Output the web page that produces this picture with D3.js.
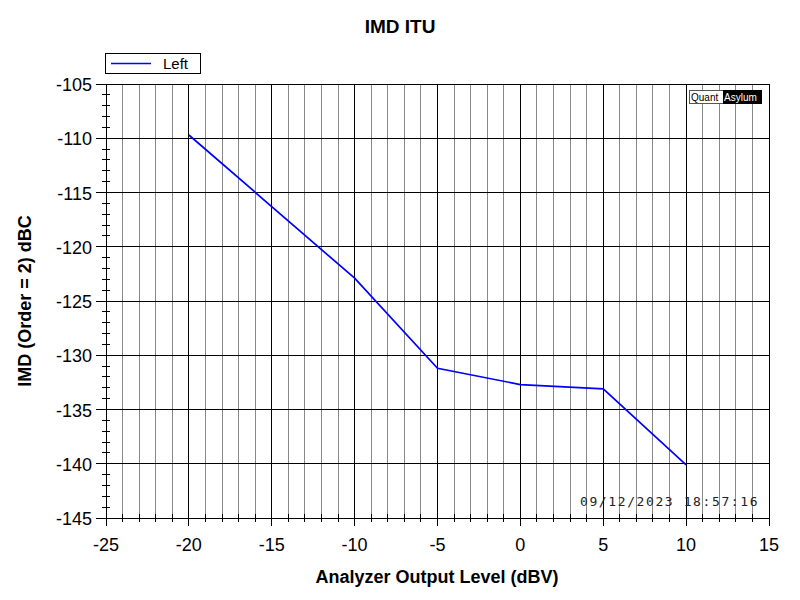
<!DOCTYPE html>
<html><head><meta charset="utf-8">
<script src="https://cdn.jsdelivr.net/npm/d3@7"></script>
<style>body{margin:0;background:#fff}</style></head>
<body><svg id="c" width="800" height="600"></svg>
<script>
const xVals = [-20, -10, -5, 0, 5, 10];
const leftVals = [-109.7, -122.9, -131.2, -132.7, -133.1, -140.1];
const xTicks = [-25, -20, -15, -10, -5, 0, 5, 10, 15];
const yTicks = [-105, -110, -115, -120, -125, -130, -135, -140, -145];

const svg = d3.select("#c");
const L = 106, R = 769, T = 84, B = 518;
const x = d3.scaleLinear().domain([-25, 15]).range([L, R]);
const y = d3.scaleLinear().domain([-145, -105]).range([B, T]);
const F = "Liberation Sans, Arial, sans-serif";

svg.append("g").selectAll("line").data(d3.range(-24, 15).filter(v => v % 5 !== 0)).join("line")
  .attr("x1", d => x(d)).attr("x2", d => x(d)).attr("y1", T).attr("y2", B)
  .attr("stroke", "#888").attr("shape-rendering", "crispEdges");
svg.append("g").selectAll("line").data(xTicks.slice(1)).join("line")
  .attr("x1", d => x(d)).attr("x2", d => x(d)).attr("y1", T).attr("y2", B)
  .attr("stroke", "#000").attr("shape-rendering", "crispEdges");
svg.append("g").selectAll("line").data(yTicks).join("line")
  .attr("x1", L - 10).attr("x2", R).attr("y1", d => y(d)).attr("y2", d => y(d))
  .attr("stroke", "#000").attr("shape-rendering", "crispEdges");
svg.append("line").attr("x1", L).attr("x2", L).attr("y1", T).attr("y2", B)
  .attr("stroke", "#000").attr("shape-rendering", "crispEdges");
svg.append("g").selectAll("line").data(d3.range(-144, -105).filter(v => v % 5 !== 0)).join("line")
  .attr("x1", L - 4).attr("x2", L + 4).attr("y1", d => y(d)).attr("y2", d => y(d))
  .attr("stroke", "#000").attr("shape-rendering", "crispEdges");
svg.append("g").selectAll("line").data(d3.range(-25, 16)).join("line")
  .attr("x1", d => x(d)).attr("x2", d => x(d)).attr("y1", B - 4).attr("y2", d => B + (d % 5 === 0 ? 8 : 4))
  .attr("stroke", "#000").attr("shape-rendering", "crispEdges");

svg.append("g").selectAll("text").data(yTicks).join("text")
  .attr("x", L - 14).attr("y", d => y(d) + 7).attr("text-anchor", "end")
  .attr("font-family", F).attr("font-size", 18).text(d => d);
svg.append("g").selectAll("text").data(xTicks).join("text")
  .attr("x", d => x(d)).attr("y", B + 33).attr("text-anchor", "middle")
  .attr("font-family", F).attr("font-size", 18).text(d => d);

svg.append("path").datum(xVals.map((v, i) => [v, leftVals[i]]))
  .attr("d", d3.line().x(d => x(d[0])).y(d => y(d[1])))
  .attr("fill", "none").attr("stroke", "#0000ff").attr("stroke-width", 1.7);

svg.append("text").attr("x", 400).attr("y", 33).attr("text-anchor", "middle")
  .attr("font-family", F).attr("font-weight", "bold").attr("font-size", 19).text("IMD ITU");
svg.append("text").attr("x", 437).attr("y", 583).attr("text-anchor", "middle")
  .attr("font-family", F).attr("font-weight", "bold").attr("font-size", 18).text("Analyzer Output Level (dBV)");
svg.append("text").attr("transform", "translate(31,301) rotate(-90)").attr("text-anchor", "middle")
  .attr("font-family", F).attr("font-weight", "bold").attr("font-size", 18).text("IMD (Order = 2) dBC");

svg.append("rect").attr("x", 105.5).attr("y", 53.5).attr("width", 95).attr("height", 20)
  .attr("fill", "#fff").attr("stroke", "#000");
svg.append("line").attr("x1", 111).attr("x2", 151).attr("y1", 63.5).attr("y2", 63.5)
  .attr("stroke", "#0000ff").attr("stroke-width", 1.7);
svg.append("text").attr("x", 163).attr("y", 69).attr("font-family", F).attr("font-size", 15).text("Left");

svg.append("rect").attr("x", 689.5).attr("y", 90.5).attr("width", 72).attr("height", 13).attr("fill", "#fff").attr("stroke", "#555");
svg.append("rect").attr("x", 723).attr("y", 90).attr("width", 39).attr("height", 14).attr("fill", "#000");
svg.append("text").attr("x", 691).attr("y", 101).attr("font-family", F).attr("font-size", 10).attr("fill", "#000").text("Quant");
svg.append("text").attr("x", 724).attr("y", 101).attr("font-family", F).attr("font-size", 10).attr("fill", "#fff").text("Asylum");

svg.append("text").attr("x", 580).attr("y", 506)
  .attr("font-family", "DejaVu Sans Mono, monospace").attr("font-size", 13).attr("letter-spacing", 1.6)
  .attr("fill", "#222").text("09/12/2023 18:57:16");
</script></body></html>
